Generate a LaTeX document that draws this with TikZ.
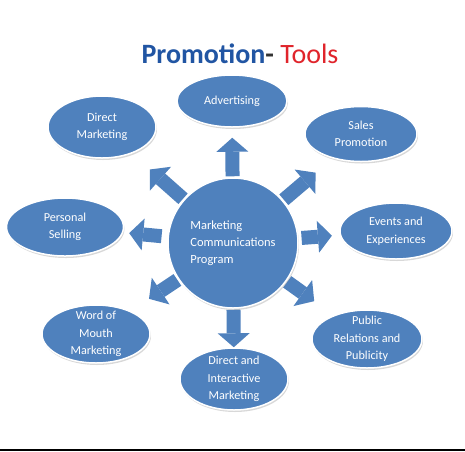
\documentclass[tikz,border=0pt]{standalone}
\usepackage{fontspec}
\setmainfont{Carlito}
\usetikzlibrary{shapes.geometric, arrows.meta, backgrounds, shadows}
\definecolor{toolblue}{HTML}{4F81BD}
\definecolor{titleblue}{HTML}{2155A3}
\definecolor{titlered}{HTML}{E0242B}
\definecolor{darkdash}{HTML}{333333}

\begin{document}
\begin{tikzpicture}[
        x=1pt, y=-1pt,
        font=\fontsize{12.2}{17.5}\selectfont,
        tool/.style={ellipse, draw=white, line width=1.5pt, fill=toolblue,
                     text=white, align=center, inner xsep=0pt, inner ysep=-3pt,
                     drop shadow={shadow xshift=1pt, shadow yshift=-2pt, opacity=0.3}},
        hub/.style={circle, draw=white, line width=1.5pt, fill=toolblue,
                    text=white, align=left, minimum size=130pt,
                    font=\fontsize{12.5}{17}\selectfont,
                    drop shadow={shadow xshift=1pt, shadow yshift=-2pt, opacity=0.3}},
        push/.style={draw=toolblue, line width=14pt,
                     -{Triangle[length=14pt, width=32pt, line width=0pt]},
                     preaction={draw=white, line width=17pt,
                                -{Triangle[length=17pt, width=38pt, line width=0pt]}}}
    ]
      \useasboundingbox (0,0) rectangle (465,451);

      % --- Title ---
      \node[anchor=base, font=\fontsize{28}{30}\selectfont] (title) at (240,63)
        {\textcolor{titleblue}{\bfseries Promotion}\textcolor{darkdash}{\bfseries -} \textcolor{titlered}{Tools}};

      % --- Hub ---
      \node[hub] (mc) at (233,243) {Marketing\\Communications\\Program};

      % --- Tools ---
      \node[tool, minimum width=110pt, minimum height=52pt] (adv) at (232,101) {Advertising};
      \node[tool, minimum width=112pt, minimum height=55pt] (sp)  at (361,134) {Sales\\Promotion};
      \node[tool, minimum width=112pt, minimum height=56pt] (ee)  at (396,231) {Events and\\Experiences};
      \node[tool, minimum width=110pt, minimum height=58pt] (pr)  at (367,339) {Public\\Relations and\\Publicity};
      \node[tool, minimum width=108pt, minimum height=62pt] (di)  at (234,379) {Direct and\\Interactive\\Marketing};
      \node[tool, minimum width=108pt, minimum height=58pt] (wm)  at (96,334)  {Word of\\Mouth\\Marketing};
      \node[tool, minimum width=117pt, minimum height=58pt] (ps)  at (65,227)  {Personal\\Selling};
      \node[tool, minimum width=108pt, minimum height=62pt] (dm)  at (102,127) {Direct\\Marketing};

      % --- Block arrows ---
      \begin{scope}[on background layer]
        \fill[white] (0,0) rectangle (465,451);
        \draw[push, shorten <=1pt, shorten >=10pt] (mc) -- (adv);
        \draw[push, shorten <=1pt, shorten >=22pt] (mc) -- (sp);
        \draw[push, shorten <=3pt, shorten >=8pt]  (mc) -- (ee);
        \draw[push, shorten <=1pt, shorten >=24pt] (mc) -- (pr);
        \draw[push, shorten <=1pt, shorten >=0pt]  (mc) -- (di);
        \draw[push, shorten <=1pt, shorten >=22pt] (mc) -- (wm);
        \draw[push, shorten <=6pt, shorten >=6pt]  (mc) -- (ps);
        \draw[push, shorten <=1pt, shorten >=24pt] (mc) -- (dm);
      \end{scope}

      % bottom rule
      \fill[black] (0,448.5) rectangle (465,451);
    \end{tikzpicture}
\end{document}
